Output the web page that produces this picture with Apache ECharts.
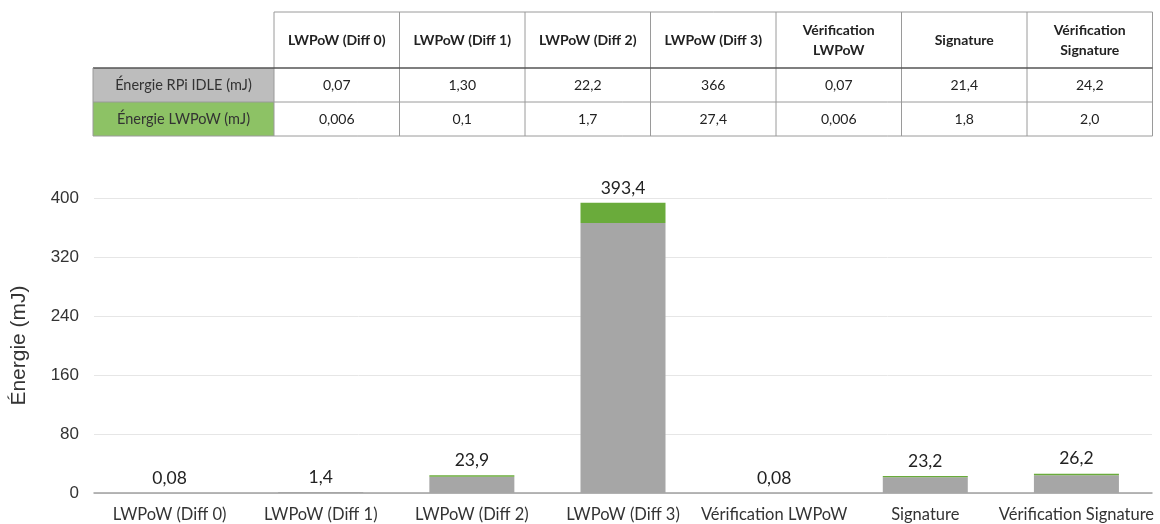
<!DOCTYPE html>
<html>
<head>
<meta charset="utf-8">
<script src="https://cdn.jsdelivr.net/npm/echarts@6/dist/echarts.min.js"></script>
<style>
  html, body { margin: 0; padding: 0; background: #ffffff; }
  #chart { width: 1160px; height: 524px; }
</style>
</head>
<body>
<div id="chart"></div>
<script>
// Operations measured
const categories = ['LWPoW (Diff 0)', 'LWPoW (Diff 1)', 'LWPoW (Diff 2)', 'LWPoW (Diff 3)', 'Vérification LWPoW', 'Signature', 'Vérification Signature'];
// Column headers of the summary table (line breaks as printed)
const tableHeaders = ['LWPoW (Diff 0)', 'LWPoW (Diff 1)', 'LWPoW (Diff 2)', 'LWPoW (Diff 3)', 'Vérification\nLWPoW', 'Signature', 'Vérification\nSignature'];
const rowLabels = ['Énergie RPi IDLE (mJ)', 'Énergie LWPoW (mJ)'];

// Energy values (mJ)
const idleEnergy = [0.07, 1.30, 22.2, 366, 0.07, 21.4, 24.2];
const lwpowEnergy = [0.006, 0.1, 1.7, 27.4, 0.006, 1.8, 2.0];

// Decimal places used when printing each value
const idleDigits = [2, 2, 1, 0, 2, 1, 1];
const lwpowDigits = [3, 1, 1, 1, 3, 1, 1];
const totalDigits = [2, 1, 1, 1, 2, 1, 1];

// Y axis ticks
const yMin = 0, yMax = 400, yStep = 80;

const fmt = (v, d) => v.toFixed(d).replace('.', ',');

const GRAY = '#a6a6a6';
const GREEN = '#6aab3b';
const CELL_GRAY = '#bdbdbd';
const CELL_GREEN = '#8dc265';
const FONT = 'Lato, "Open Sans", sans-serif';
const SANS = '"Liberation Sans", Arial, sans-serif';

// ---- table drawn with graphic elements ----
const T = { left: 93, labelW: 181, colW: 125.5, top: 12, headH: 56, rowH: 34 };
const nCols = categories.length;
const tableRight = T.left + T.labelW + nCols * T.colW;
const graphics = [];
const rowTop = r => T.top + T.headH + r * T.rowH;

// filled row-label cells
[CELL_GRAY, CELL_GREEN].forEach((c, r) => {
  graphics.push({ type: 'rect', shape: { x: T.left, y: rowTop(r), width: T.labelW, height: T.rowH }, style: { fill: c }, silent: true });
  graphics.push({ type: 'text', x: T.left + T.labelW / 2, y: rowTop(r) + T.rowH / 2,
    style: { text: rowLabels[r], font: '14.5px ' + FONT, fill: '#333', align: 'center', verticalAlign: 'middle' }, silent: true });
});

// header texts and values
for (let i = 0; i < nCols; i++) {
  const cx = T.left + T.labelW + (i + 0.5) * T.colW;
  graphics.push({ type: 'text', x: cx, y: T.top + T.headH / 2,
    style: { text: tableHeaders[i], font: 'bold 14px ' + FONT, fill: '#222', align: 'center', verticalAlign: 'middle', lineHeight: 20 }, silent: true });
  graphics.push({ type: 'text', x: cx, y: rowTop(0) + T.rowH / 2,
    style: { text: fmt(idleEnergy[i], idleDigits[i]), font: '14px ' + FONT, fill: '#222', align: 'center', verticalAlign: 'middle' }, silent: true });
  graphics.push({ type: 'text', x: cx, y: rowTop(1) + T.rowH / 2,
    style: { text: fmt(lwpowEnergy[i], lwpowDigits[i]), font: '14px ' + FONT, fill: '#222', align: 'center', verticalAlign: 'middle' }, silent: true });
}

// grid lines of the table
const line = (x1, y1, x2, y2, color, w) => graphics.push({ type: 'line', shape: { x1, y1, x2, y2 }, style: { stroke: color, lineWidth: w }, silent: true });
const dataLeft = T.left + T.labelW;
line(dataLeft, T.top, tableRight, T.top, '#9a9a9a', 1);
for (let i = 0; i <= nCols; i++) {
  const x = dataLeft + i * T.colW;
  line(x, T.top, x, rowTop(2), '#9a9a9a', 1);
}
line(T.left, rowTop(0), tableRight, rowTop(0), '#555', 1.5);
line(T.left, rowTop(1), tableRight, rowTop(1), '#9a9a9a', 1);
line(T.left, rowTop(2), tableRight, rowTop(2), '#9a9a9a', 1);
line(T.left, rowTop(0), T.left, rowTop(2), '#9a9a9a', 1);

// ---- stacked bar chart ----
const chart = echarts.init(document.getElementById('chart'), null, { renderer: 'canvas' });
chart.setOption({
  animation: false,
  backgroundColor: '#ffffff',
  graphic: graphics,
  grid: { left: 94, right: 8, top: 198, bottom: 31, containLabel: false },
  xAxis: {
    type: 'category',
    data: categories,
    axisLine: { lineStyle: { color: '#a0a0a0', width: 1.5 } },
    axisTick: { show: false },
    axisLabel: { color: '#333', fontSize: 16.5, fontFamily: FONT, margin: 13, interval: 0 }
  },
  yAxis: {
    type: 'value',
    min: yMin, max: yMax, interval: yStep,
    name: 'Énergie (mJ)',
    nameLocation: 'middle',
    nameGap: 64,
    nameTextStyle: { color: '#333', fontSize: 21, fontFamily: SANS },
    axisLine: { show: false },
    axisTick: { show: false },
    axisLabel: { color: '#333', fontSize: 17, fontFamily: SANS, margin: 15 },
    splitLine: { lineStyle: { color: '#e6e6e6', width: 1 } }
  },
  series: [
    {
      name: 'Énergie RPi IDLE (mJ)',
      type: 'bar',
      stack: 'total',
      barWidth: 85,
      data: idleEnergy,
      itemStyle: { color: GRAY }
    },
    {
      name: 'Énergie LWPoW (mJ)',
      type: 'bar',
      stack: 'total',
      barWidth: 85,
      data: lwpowEnergy,
      itemStyle: { color: GREEN },
      label: {
        show: true,
        position: 'top',
        distance: 6,
        color: '#222',
        fontSize: 17.5,
        fontFamily: FONT,
        formatter: p => fmt(idleEnergy[p.dataIndex] + lwpowEnergy[p.dataIndex], totalDigits[p.dataIndex])
      }
    }
  ]
});
</script>
</body>
</html>
